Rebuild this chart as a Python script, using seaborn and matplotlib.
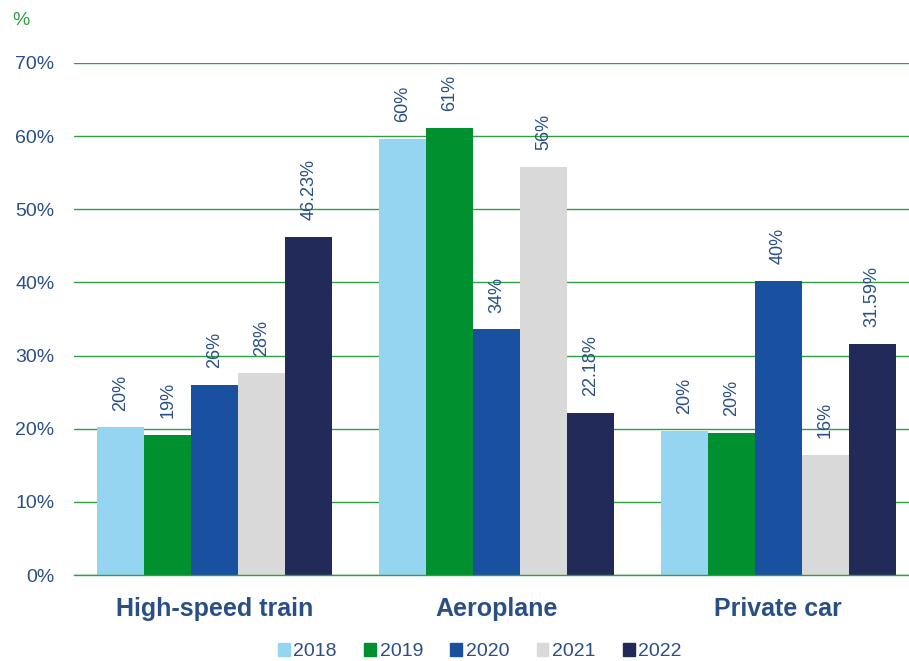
import matplotlib
matplotlib.use("Agg")
import matplotlib.pyplot as plt
import pandas as pd
import seaborn as sns
from matplotlib.patches import Patch

# data
modes = ["High-speed train", "Aeroplane", "Private car"]
years = ["2018", "2019", "2020", "2021", "2022"]
v2018 = [20.2, 59.6, 19.7]
v2019 = [19.2, 61.1, 19.4]
v2020 = [26.0, 33.6, 40.2]
v2021 = [27.6, 55.8, 16.4]
v2022 = [46.23, 22.18, 31.59]
labels_2018 = ["20%", "60%", "20%"]
labels_2019 = ["19%", "61%", "20%"]
labels_2020 = ["26%", "34%", "40%"]
labels_2021 = ["28%", "56%", "16%"]
labels_2022 = ["46.23%", "22.18%", "31.59%"]

series = [v2018, v2019, v2020, v2021, v2022]
bar_labels = [labels_2018, labels_2019, labels_2020, labels_2021, labels_2022]
colors = ["#95d5f2", "#00902f", "#1a50a0", "#d9d9d9", "#222a5a"]

rows = []
for year, vals in zip(years, series):
    for mode, v in zip(modes, vals):
        rows.append({"mode": mode, "year": year, "value": v})
df = pd.DataFrame(rows)

sns.set_theme(style="white")
plt.rcParams["font.family"] = ["Liberation Sans", "DejaVu Sans"]

text_blue = "#2a4f85"
grid_green = "#2ea043"

fig = plt.figure(figsize=(9.09, 6.61), dpi=100)
ax = fig.add_axes([0.0812, 0.1301, 0.930, 0.7746])

sns.barplot(data=df, x="mode", y="value", hue="year", palette=colors,
            width=0.8333, ax=ax, legend=False, saturation=1, linewidth=0)

for cont, labs in zip(ax.containers, bar_labels):
    ax.bar_label(cont, labels=labs, rotation=90, padding=12,
                 color=text_blue, fontsize=13)

ax.set_ylim(0, 70)
ax.set_xlim(-0.5, 2.5)
ax.set_yticks(range(0, 71, 10))
ax.set_yticklabels([f"{t}%" for t in range(0, 71, 10)])
ax.yaxis.grid(True, color=grid_green, linewidth=1)
ax.set_axisbelow(True)
for s in ["left", "right", "top"]:
    ax.spines[s].set_visible(False)
ax.spines["bottom"].set_color(grid_green)
ax.spines["bottom"].set_linewidth(1)
ax.tick_params(axis="y", length=0, pad=14, labelsize=14, labelcolor=text_blue)
ax.tick_params(axis="x", length=0, pad=16)
for t in ax.get_xticklabels():
    t.set_fontweight("bold")
    t.set_fontsize(18)
    t.set_color(text_blue)
ax.set_xlabel("")
ax.set_ylabel("")

fig.text(0.013, 0.962, "%", color=grid_green, fontsize=14)

handles = [Patch(color=c, label=y) for c, y in zip(colors, years)]
leg = fig.legend(handles=handles, loc="center", bbox_to_anchor=(0.528, 0.014),
                 ncol=5, frameon=False, handlelength=0.6, handleheight=0.6,
                 handletextpad=0.2, columnspacing=1.4, fontsize=14)
for t in leg.get_texts():
    t.set_color(text_blue)

fig.savefig("out.png", dpi=100)
